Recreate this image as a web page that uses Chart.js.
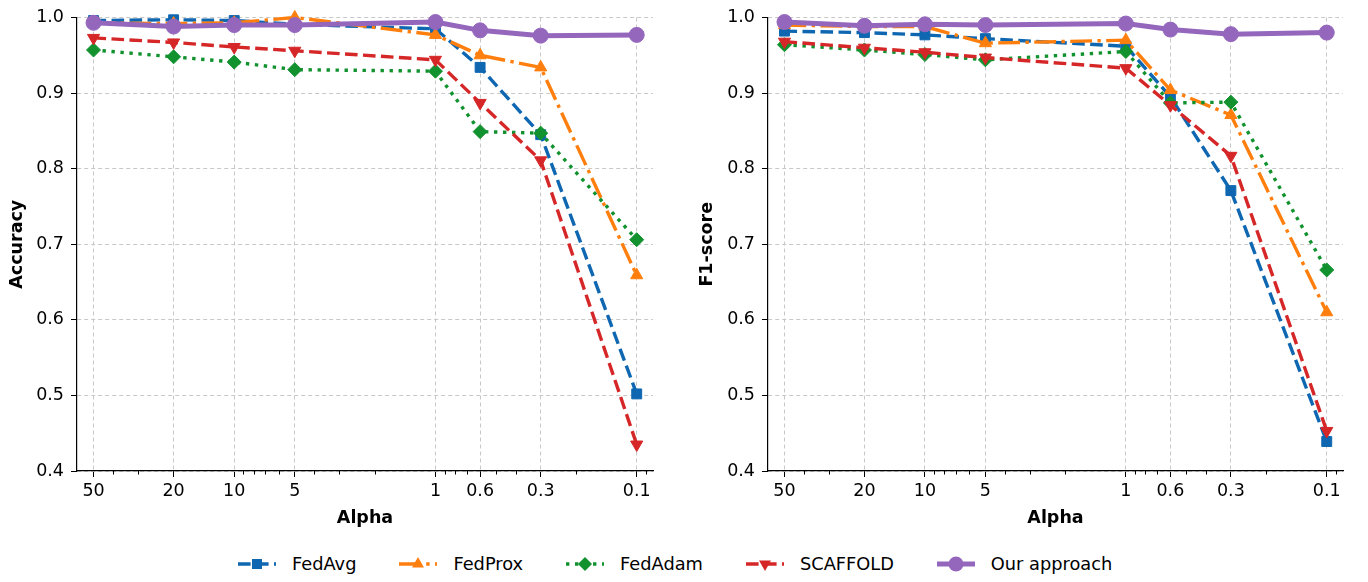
<!DOCTYPE html>
<html>
<head>
<meta charset="utf-8">
<script src="https://cdn.jsdelivr.net/npm/chart.js@4.4.1/dist/chart.umd.min.js"></script>
<style>
  html, body { margin: 0; padding: 0; background: #fff; }
  #fig { position: relative; width: 1368px; height: 582px; overflow: hidden; font-family: "DejaVu Sans", sans-serif; color: #000; }
  .panel { position: absolute; top: 0; height: 540px; }
  #left { left: 0; width: 684px; }
  #right { left: 690px; width: 678px; }
  #legend { position: absolute; left: 238px; top: 553px; display: flex; align-items: center; font-size: 17.8px; white-space: nowrap; }
  .item { display: flex; align-items: center; margin-right: 43px; }
  .item svg { margin-right: 16px; }
</style>
</head>
<body>
<div id="fig">
  <div class="panel" id="left"><canvas id="accChart"></canvas></div>
  <div class="panel" id="right"><canvas id="f1Chart"></canvas></div>
  <div id="legend"></div>
</div>
<script>
// x positions (Dirichlet alpha), drawn on a reversed log axis
const alphas = [50, 20, 10, 5, 1, 0.6, 0.3, 0.1]
const minorTicks = [40, 30, 9, 8, 7, 6, 4, 3, 2, 0.9, 0.8, 0.7, 0.5, 0.4, 0.2, 0.09]
const methods = ['FedAvg', 'FedProx', 'FedAdam', 'SCAFFOLD', 'Our approach']

// Accuracy panel
const accFedAvg   = [0.996, 0.997, 0.996, 0.991, 0.985, 0.934, 0.845, 0.502]
const accFedProx  = [0.993, 0.992, 0.993, 1.000, 0.977, 0.950, 0.934, 0.659]
const accFedAdam  = [0.957, 0.948, 0.941, 0.931, 0.929, 0.849, 0.847, 0.706]
const accScaffold = [0.973, 0.967, 0.961, 0.956, 0.944, 0.887, 0.811, 0.435]
const accOurs     = [0.993, 0.988, 0.990, 0.990, 0.994, 0.983, 0.976, 0.977]

// F1-score panel
const f1FedAvg   = [0.982, 0.980, 0.977, 0.972, 0.962, 0.895, 0.771, 0.439]
const f1FedProx  = [0.990, 0.988, 0.988, 0.966, 0.970, 0.904, 0.871, 0.610]
const f1FedAdam  = [0.964, 0.957, 0.951, 0.944, 0.955, 0.887, 0.888, 0.666]
const f1Scaffold = [0.968, 0.960, 0.954, 0.947, 0.933, 0.884, 0.817, 0.453]
const f1Ours     = [0.994, 0.989, 0.991, 0.990, 0.992, 0.984, 0.978, 0.980]

// styles
const colors = ['#0f67b1', '#ff7f0e', '#12922f', '#d62728', '#9467bd']
const widths = [3.4, 3.4, 3.4, 3.4, 5]
const dashes = [[12.6, 5.4], [21.8, 5.4, 3.4, 5.4], [3.4, 5.6], [12.6, 5.4], []]
const markers = ['rect', 'triangle', 'rectRot', 'triangle', 'circle']
const rotations = [0, 0, 0, 180, 0]
const radii = [7, 7, 7, 7, 7.5]

Chart.defaults.font.family = '"DejaVu Sans", sans-serif'
Chart.defaults.font.size = 17.5
Chart.defaults.color = '#000'

const minorTickPlugin = {
    id: 'minorTicks',
    afterDraw(chart) {
        const x = chart.scales.x
        const ctx = chart.ctx
        ctx.save()
        ctx.strokeStyle = '#000'
        ctx.lineWidth = 1
        minorTicks.forEach((v) => {
            const px = Math.round(x.getPixelForValue(v)) + 0.5
            ctx.beginPath()
            ctx.moveTo(px, x.top)
            ctx.lineTo(px, x.top + 3.5)
            ctx.stroke()
        })
        ctx.restore()
    }
}

function makeDatasets(series) {
    return methods.map((name, i) => ({
        label: name,
        data: alphas.map((a, j) => ({ x: a, y: series[i][j] })),
        borderColor: colors[i],
        backgroundColor: colors[i],
        borderWidth: widths[i],
        borderDash: dashes[i],
        pointStyle: markers[i],
        pointRotation: rotations[i],
        pointRadius: radii[i],
        pointBorderWidth: 1,
        pointBackgroundColor: colors[i],
        pointBorderColor: colors[i],
        tension: 0,
        clip: false,
        order: methods.length - i
    }))
}

function makeChart(canvasId, series, yTitle, yWidth, padRight) {
    return new Chart(document.getElementById(canvasId), {
        type: 'line',
        data: { datasets: makeDatasets(series) },
        options: {
            responsive: true,
            maintainAspectRatio: false,
            animation: false,
            layout: { padding: { top: 13, right: padRight, bottom: 0, left: 0 } },
            plugins: { legend: { display: false }, tooltip: { enabled: false } },
            scales: {
                x: {
                    type: 'logarithmic',
                    reverse: true,
                    min: 0.083,
                    max: 60.4,
                    afterBuildTicks: (scale) => {
                        scale.ticks = alphas.map((v) => ({ value: v }))
                    },
                    afterFit: (scale) => { scale.height = 69 },
                    ticks: {
                        autoSkip: false,
                        maxRotation: 0,
                        padding: 4,
                        callback: (v) => String(v)
                    },
                    grid: {
                        color: '#c8c8c8',
                        lineWidth: 1,
                        tickColor: '#000',
                        tickLength: 6,
                        tickBorderDash: []
                    },
                    border: { display: true, color: '#000', width: 1.2, dash: [4, 3] },
                    title: {
                        display: true,
                        text: 'Alpha',
                        font: { weight: 'bold', size: 17.5 },
                        padding: { top: 0, bottom: 11 }
                    }
                },
                y: {
                    type: 'linear',
                    min: 0.4,
                    max: 1.0,
                    afterFit: (scale) => { scale.width = yWidth },
                    ticks: {
                        stepSize: 0.1,
                        padding: 7,
                        callback: (v) => v.toFixed(1)
                    },
                    grid: {
                        color: '#c8c8c8',
                        lineWidth: 1,
                        tickColor: '#000',
                        tickLength: 6,
                        tickBorderDash: []
                    },
                    border: { display: true, color: '#000', width: 1.2, dash: [4, 3] },
                    title: {
                        display: true,
                        text: yTitle,
                        font: { weight: 'bold', size: 17.5 },
                        padding: { top: 7, bottom: 0 }
                    }
                }
            }
        },
        plugins: [minorTickPlugin]
    })
}

makeChart('accChart', [accFedAvg, accFedProx, accFedAdam, accScaffold, accOurs], 'Accuracy', 77, 31)
makeChart('f1Chart', [f1FedAvg, f1FedProx, f1FedAdam, f1Scaffold, f1Ours], 'F1-score', 78, 25)

// legend shared by both panels
function markerSvg(i, cx, cy) {
    const c = colors[i]
    if (markers[i] === 'rect') {
        return `<rect x="${cx - 5}" y="${cy - 5}" width="10" height="10" fill="${c}"/>`
    }
    if (markers[i] === 'rectRot') {
        return `<polygon points="${cx - 7},${cy} ${cx},${cy - 7} ${cx + 7},${cy} ${cx},${cy + 7}" fill="${c}"/>`
    }
    if (markers[i] === 'circle') {
        return `<circle cx="${cx}" cy="${cy}" r="7.5" fill="${c}"/>`
    }
    const s = rotations[i] === 180 ? -1 : 1
    return `<polygon points="${cx},${cy - 7 * s} ${cx - 6},${cy + 3.5 * s} ${cx + 6},${cy + 3.5 * s}" fill="${c}"/>`
}

const legendBox = document.getElementById('legend')
methods.forEach((name, i) => {
    const item = document.createElement('div')
    item.className = 'item'
    if (i === methods.length - 1) item.style.marginRight = '0'
    item.innerHTML = `
        <svg width="38" height="18" viewBox="0 0 38 18">
            <line x1="0" y1="9" x2="38" y2="9" stroke="${colors[i]}" stroke-width="${widths[i]}"
                stroke-dasharray="${dashes[i].join(' ') || 'none'}"/>
            ${markerSvg(i, 19, 9)}
        </svg>
        <span>${name}</span>`
    legendBox.appendChild(item)
})
</script>
</body>
</html>
